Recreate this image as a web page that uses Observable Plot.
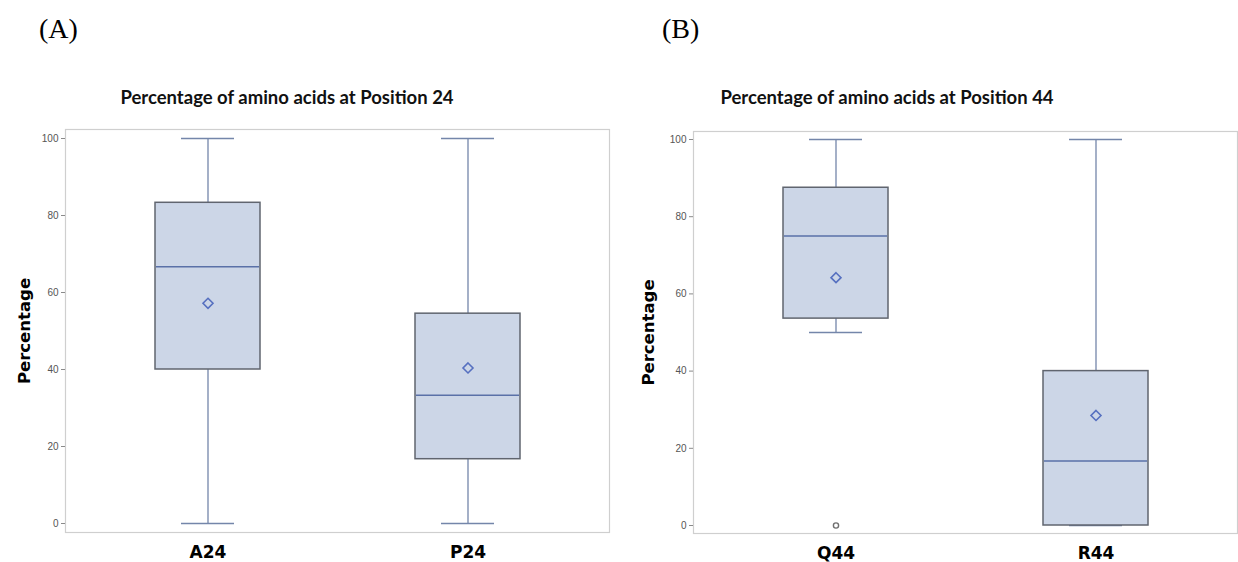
<!DOCTYPE html>
<html>
<head>
<meta charset="utf-8">
<script src="https://cdn.jsdelivr.net/npm/d3@7"></script>
<script src="https://cdn.jsdelivr.net/npm/@observablehq/plot@0.6"></script>
<style>
  html, body { margin: 0; padding: 0; background: #fff; }
  #fig { position: relative; width: 1238px; height: 562px; overflow: hidden; background: #fff; }
  .panel-label { position: absolute; font-family: "Liberation Serif", "Times New Roman", serif; font-size: 28px; line-height: 32px; color: #000; }
  .title { position: absolute; width: 500px; text-align: center; font-family: Lato, "Open Sans", sans-serif; font-weight: bold; font-size: 18.5px; line-height: 22px; color: #111; }
  .plot { position: absolute; top: 120px; }
  .plot svg g[aria-label="x-axis tick label"] text { font-weight: bold; }
</style>
</head>
<body>
<div id="fig">
  <div class="panel-label" style="left:39px; top:13px;">(A)</div>
  <div class="panel-label" style="left:662px; top:13px;">(B)</div>
  <div class="title" style="left:37px; top:86px;">Percentage of amino acids at Position 24</div>
  <div class="title" style="left:637px; top:86px;">Percentage of amino acids at Position 44</div>
  <div class="plot" id="p24" style="left:0px;"></div>
  <div class="plot" id="p44" style="left:620px;"></div>
</div>
<script>
// ---- Data (percentages) ----
const yTicks = [0, 20, 40, 60, 80, 100];

// Panel A: Position 24
const cat24 = ["A24", "P24"];
const min24 = [0, 0];
const q1_24 = [40, 16.7];
const med24 = [66.7, 33.3];
const q3_24 = [83.3, 54.5];
const max24 = [100, 100];
const mean24 = [57.2, 40.4];
const outCat24 = [];
const outVal24 = [];

// Panel B: Position 44
const cat44 = ["Q44", "R44"];
const min44 = [50, 0];
const q1_44 = [53.6, 0];
const med44 = [75, 16.7];
const q3_44 = [87.5, 40];
const max44 = [100, 100];
const mean44 = [64.2, 28.5];
const outCat44 = ["Q44"];
const outVal44 = [0];

function rows(cat, mn, q1, med, q3, mx, mean) {
  return cat.map((c, i) => ({cat: c, min: mn[i], q1: q1[i], med: med[i], q3: q3[i], max: mx[i], mean: mean[i]}));
}

const C = {
  fill: "#ccd6e7",
  boxStroke: "#60656f",
  whisker: "#7486aa",
  median: "#5a71a8",
  mean: "#5670c0",
  outlier: "#6f6f6f",
  frame: "#cfcfcf",
  tick: "#8a8a8a",
  tickText: "#555"
};

function panel(data, outliers, opts) {
  const {width, marginLeft, marginRight, marginTop, marginBottom, insetTop, insetBottom, labelDx} = opts;
  return Plot.plot({
    width, height: 442,
    marginLeft, marginRight, marginTop, marginBottom,
    style: {fontFamily: "'DejaVu Sans', sans-serif", background: "transparent", overflow: "visible"},
    x: {type: "band", domain: data.map(d => d.cat), paddingInner: 0.598, paddingOuter: 0.343, label: null},
    y: {domain: [0, 100], insetTop, insetBottom, label: null},
    marks: [
      Plot.frame({stroke: C.frame, strokeWidth: 1.2}),
      Plot.axisY({ticks: yTicks, tickSize: 4, tickPadding: 3, fontSize: 10, stroke: C.tick, color: C.tickText,
                  fontFamily: "'Liberation Sans', Arial, sans-serif", label: null}),
      Plot.axisX({tickSize: 0, tickPadding: 13, fontSize: 17, fontWeight: "bold", color: "#000", label: null}),
      Plot.text(["Percentage"], {frameAnchor: "left", textAnchor: "middle", lineAnchor: "middle", text: d => d,
                  rotate: -90, dx: labelDx, fontSize: 16.5, fontWeight: "bold", fill: "#000"}),
      // whiskers
      Plot.ruleX(data, {x: "cat", y1: "min", y2: "q1", stroke: C.whisker, strokeWidth: 1.3}),
      Plot.ruleX(data, {x: "cat", y1: "q3", y2: "max", stroke: C.whisker, strokeWidth: 1.3}),
      // caps
      Plot.tickY(data, {x: "cat", y: "min", stroke: C.whisker, strokeWidth: 1.3, insetLeft: 26, insetRight: 26}),
      Plot.tickY(data, {x: "cat", y: "max", stroke: C.whisker, strokeWidth: 1.3, insetLeft: 26, insetRight: 26}),
      // box
      Plot.barY(data, {x: "cat", y1: "q1", y2: "q3", fill: C.fill, stroke: C.boxStroke, strokeWidth: 1.5}),
      // median
      Plot.tickY(data, {x: "cat", y: "med", stroke: C.median, strokeWidth: 1.5, insetLeft: 1, insetRight: 1}),
      // mean
      Plot.dot(data, {x: "cat", y: "mean", symbol: "diamond2", r: 4.5, stroke: C.mean, strokeWidth: 1.6, fill: "none"}),
      // outliers
      Plot.dot(outliers, {x: "cat", y: "value", symbol: "circle", r: 2.6, stroke: C.outlier, strokeWidth: 1.4, fill: "none"})
    ]
  });
}

const d24 = rows(cat24, min24, q1_24, med24, q3_24, max24, mean24);
const o24 = outCat24.map((c, i) => ({cat: c, value: outVal24[i]}));
const d44 = rows(cat44, min44, q1_44, med44, q3_44, max44, mean44);
const o44 = outCat44.map((c, i) => ({cat: c, value: outVal44[i]}));

document.getElementById("p24").append(panel(d24, o24, {
  width: 620, marginLeft: 65, marginRight: 11, marginTop: 9, marginBottom: 30, insetTop: 9, insetBottom: 9, labelDx: -41
}));
document.getElementById("p44").append(panel(d44, o44, {
  width: 618, marginLeft: 73, marginRight: 1, marginTop: 11, marginBottom: 29, insetTop: 8, insetBottom: 8, labelDx: -45
}));
</script>
</body>
</html>
